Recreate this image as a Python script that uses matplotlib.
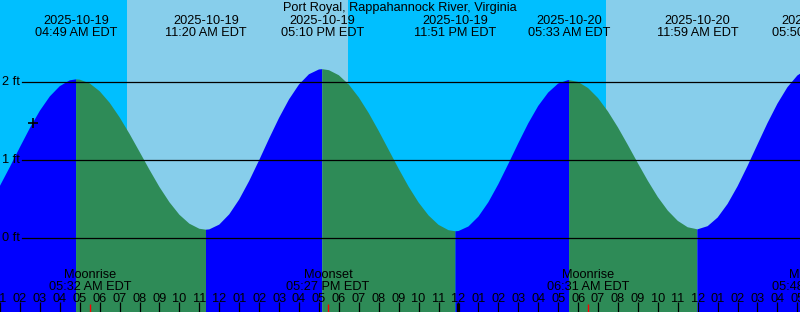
import numpy as np
from datetime import datetime
from matplotlib import pyplot as plt
from matplotlib.transforms import blended_transform_factory

plt.rcParams['font.family'] = ['Liberation Sans', 'DejaVu Sans']

station = 'Port Royal, Rappahannock River, Virginia'
origin = datetime(2025, 10, 19, 0, 0)

# high / low tides (local time, ft)
tide_times = ['2025-10-18 22:47', '2025-10-19 04:49', '2025-10-19 11:20', '2025-10-19 17:10',
              '2025-10-19 23:51', '2025-10-20 05:33', '2025-10-20 11:59', '2025-10-20 17:50']
tide_heights = [0.10, 2.03, 0.11, 2.16, 0.09, 2.02, 0.115, 2.18]

# water level read every half hour, starting 01:00 on 10-19
curve_start = 1.0
curve_heights = [0.671, 0.913, 1.164, 1.408, 1.629, 1.812, 1.943, 2.017,
                 2.026, 1.978, 1.878, 1.731, 1.545, 1.333, 1.105, 0.875,
                 0.655, 0.461, 0.301, 0.187, 0.122, 0.114, 0.175, 0.306,
                 0.496, 0.732, 0.997, 1.273, 1.538, 1.774, 1.964, 2.095,
                 2.156, 2.147, 2.082, 1.963, 1.799, 1.598, 1.370, 1.129,
                 0.888, 0.659, 0.457, 0.292, 0.172, 0.104, 0.093, 0.151,
                 0.277, 0.461, 0.692, 0.949, 1.214, 1.468, 1.690, 1.861,
                 1.976, 2.020, 1.997, 1.919, 1.791, 1.619, 1.416, 1.191,
                 0.959, 0.734, 0.527, 0.354, 0.223, 0.141, 0.115, 0.155,
                 0.265, 0.439, 0.664, 0.923, 1.198, 1.470, 1.719, 1.928,
                 2.079, 2.163]

sunrise = ['2025-10-19 07:23', '2025-10-20 07:23']
sunset = ['2025-10-19 18:26', '2025-10-20 18:25']

moon_times = ['2025-10-19 05:32', '2025-10-19 17:27', '2025-10-20 06:31', '2025-10-20 17:48']
moon_events = ['Moonrise', 'Moonset', 'Moonrise', 'Moonset']

now_time = '2025-10-19 02:38'
now_height = 1.47

level_lines = [0, 1, 2]

NIGHT = '#00BFFF'
DAY = '#87CEEB'
RISING = '#0000FF'
FALLING = '#2E8B57'
FS = 9.2


def parse(s):
    return datetime.strptime(s, '%Y-%m-%d %H:%M')

def hrs(s):
    return (parse(s) - origin).total_seconds() / 3600.

def label_time(s):
    return parse(s).strftime('%I:%M %p') + ' EDT'

def ypx(p):
    # pixel row from the top -> axes fraction
    return 1 - p / 312.


t_ext = np.array([hrs(s) for s in tide_times])
h_ext = np.array(tide_heights)
t_curve = curve_start + 0.5 * np.arange(len(curve_heights))
T = np.concatenate([t_curve, t_ext])
H = np.concatenate([np.array(curve_heights), h_ext])
order = np.argsort(T)
T, H = T[order], H[order]

fig = plt.figure(figsize=(8, 3.12), dpi=100)
ax = fig.add_axes([0, 0, 1, 1])
ax.set_xlim(1 + 8 / 60., 41 + 8 / 60.)
ax.set_ylim(-0.941, 3.043)
ax.set_facecolor(NIGHT)
for sp in ax.spines.values():
    sp.set_visible(False)
bt = blended_transform_factory(ax.transData, ax.transAxes)

for sr, ss in zip(sunrise, sunset):
    ax.axvspan(hrs(sr), hrs(ss), color=DAY, lw=0, zorder=0)

for i in range(len(t_ext) - 1):
    m = (T >= t_ext[i]) & (T <= t_ext[i + 1])
    col = RISING if h_ext[i + 1] > h_ext[i] else FALLING
    ax.fill_between(T[m], -2, H[m], color=col, lw=0, zorder=1)

for lv in level_lines:
    ax.axhline(lv, xmin=22 / 800., xmax=1, color='black', lw=0.9, zorder=2)
    ax.text(2 / 800., lv, '%d ft' % lv, transform=blended_transform_factory(ax.transAxes, ax.transData),
            ha='left', va='center', fontsize=FS, zorder=3)

ax.plot([hrs(now_time)], [now_height], marker='+', color='black', ms=7, mew=1.2, zorder=3)

# tide labels along the top
for s in tide_times:
    x = hrs(s)
    ax.text(x, ypx(24), s[:10], transform=bt, ha='center', va='baseline', fontsize=FS, zorder=3)
    ax.text(x, ypx(36), label_time(s), transform=bt, ha='center', va='baseline', fontsize=FS, zorder=3)

ax.text(0.5, ypx(11), station, transform=ax.transAxes, ha='center', va='baseline', fontsize=FS, zorder=3)

# moon labels along the bottom
for s, ev in zip(moon_times, moon_events):
    x = hrs(s)
    ax.text(x, ypx(278), ev, transform=bt, ha='center', va='baseline', fontsize=FS, zorder=3)
    ax.text(x, ypx(290), label_time(s), transform=bt, ha='center', va='baseline', fontsize=FS, zorder=3)
    ax.vlines(x, 0, 8 / 312., transform=bt, color='red', lw=1.0, zorder=3)

# hour ticks
hours = np.arange(1, 42)
ax.set_xticks(hours)
ax.set_yticks([])
ax.tick_params(axis='x', direction='in', length=7, width=0.9, color='black', labelbottom=False)
for hh in hours:
    ax.text(hh, ypx(301.7), '%02d' % ((hh - 1) % 12 + 1), transform=bt, ha='center', va='baseline',
            fontsize=FS, zorder=3)
ax.vlines(24, 0, 9 / 312., transform=bt, color='black', lw=2.3, zorder=3)

fig.savefig('out.png', dpi=100)
